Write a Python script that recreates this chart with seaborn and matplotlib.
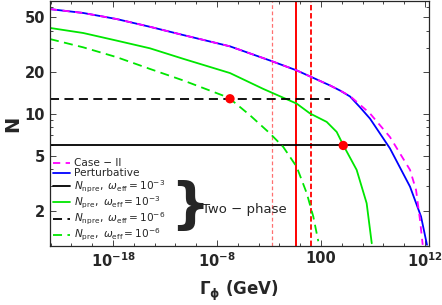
import numpy as np
import pandas as pd
import seaborn as sns
import matplotlib
matplotlib.use("Agg")
import matplotlib.pyplot as plt
from matplotlib.ticker import FixedLocator, FixedFormatter, LogLocator, NullFormatter

# valores (expoente log10 de Gamma_phi e N)
pert_logG = [-24.06, -20.86, -17.64, -14.44, -11.24, -6.75, -2.90, -0.34, 2.87,
             3.83, 4.79, 5.75, 6.71, 8.63, 10.56, 11.62, 12.19]
pert_N = [57.5, 53.9, 48.7, 42.8, 37.3, 30.9, 24.4, 20.7, 16.1,
          14.8, 13.4, 11.2, 9.27, 5.64, 2.98, 1.81, 1.13]

case2_logG = [-24.06, -20.86, -17.64, -14.44, -11.24, -6.75, -2.90, -0.34, 2.87,
              3.83, 4.79, 6.71, 8.63, 10.56, 11.14, 11.52, 11.78]
case2_N = [57.5, 53.9, 48.7, 42.8, 37.3, 30.9, 24.4, 20.7, 16.1,
           14.8, 13.5, 10.1, 6.82, 3.94, 2.82, 1.71, 1.13]

pre3_logG = [-24.06, -20.86, -17.64, -14.44, -11.24, -6.75, -3.55, -0.34, 0.94,
             2.55, 3.51, 4.14, 5.43, 6.39, 6.88]
pre3_N = [42.0, 38.6, 34.0, 29.9, 25.1, 19.8, 15.2, 11.9, 10.1,
          8.77, 7.42, 5.96, 3.94, 2.26, 1.16]

pre6_logG = [-24.06, -20.86, -17.64, -14.44, -11.24, -7.07, -6.75, -4.83,
             -2.90, -1.63, -0.34, 0.63, 1.26, 1.74]
pre6_N = [34.9, 30.4, 25.8, 21.2, 17.5, 13.3, 12.9, 9.8,
          7.23, 5.78, 4.15, 2.67, 1.81, 1.20]

npre3_logG = [-24.06, 8.15]
npre3_N = [5.92, 5.92]
npre6_logG = [-24.06, 2.87]
npre6_N = [12.9, 12.9]

dots_logG = [-6.75, 4.14]
dots_N = [12.9, 5.92]

vlines_logG = [-2.74, -0.38, 1.01]

xticks_exp = [-18, -8, 2, 12]
xtick_labels = [r'$\mathbf{10^{-18}}$', r'$\mathbf{10^{-8}}$', '100', r'$\mathbf{10^{12}}$']
yticks = [2, 5, 10, 20, 50]

sns.set_style('ticks')
plt.rcParams['font.family'] = ['DejaVu Sans']

fig = plt.figure(figsize=(4.42, 3.05), dpi=100)
ax = fig.add_axes([0.113, 0.192, 0.857, 0.805])


def curva(logG, N, **kw):
    df = pd.DataFrame({'G': 10.0 ** np.array(logG), 'N': N})
    return sns.lineplot(data=df, x='G', y='N', ax=ax, estimator=None, sort=False, **kw)


# linhas verticais em vermelho
ax.axvline(10 ** vlines_logG[0], color='#ff7070', lw=0.9, ls=(0, (3, 2)))
ax.axvline(10 ** vlines_logG[1], color='#ff0000', lw=1.4)
ax.axvline(10 ** vlines_logG[2], color='#ff0000', lw=1.3, ls=(0, (3, 1.5)))

curva(pert_logG, pert_N, color='#0000ff', lw=1.3, label='Perturbative')
curva(case2_logG, case2_N, color='#ff00ff', lw=1.3, ls=(0, (4, 3)), label='Case − II')
curva(npre3_logG, npre3_N, color='black', lw=1.3, label=r'$N_{\rm npre},\ \omega_{\rm eff}=10^{-3}$')
curva(pre3_logG, pre3_N, color='#00e600', lw=1.3, label=r'$N_{\rm pre},\ \omega_{\rm eff}=10^{-3}$')
curva(npre6_logG, npre6_N, color='black', lw=1.3, ls=(0, (5, 3)), label=r'$N_{\rm npre},\ \omega_{\rm eff}=10^{-6}$')
curva(pre6_logG, pre6_N, color='#00e600', lw=1.3, ls=(0, (5, 3)), label=r'$N_{\rm pre},\ \omega_{\rm eff}=10^{-6}$')

# pontos vermelhos
sns.scatterplot(x=10.0 ** np.array(dots_logG), y=dots_N, ax=ax, color='#ff0000',
                s=45, edgecolor='none', zorder=5)

ax.set_xscale('log')
ax.set_yscale('log')
ax.set_xlim(10 ** -24.06, 10 ** 12.36)
ax.set_ylim(1.10, 65.9)

ax.xaxis.set_major_locator(FixedLocator([10.0 ** e for e in xticks_exp]))
ax.xaxis.set_major_formatter(FixedFormatter(xtick_labels))
ax.xaxis.set_minor_locator(FixedLocator([10.0 ** e for e in range(-24, 13, 2)]))
ax.xaxis.set_minor_formatter(NullFormatter())
ax.yaxis.set_major_locator(FixedLocator(yticks))
ax.yaxis.set_major_formatter(FixedFormatter([str(v) for v in yticks]))
ax.yaxis.set_minor_locator(LogLocator(base=10, subs=np.arange(1, 10)))
ax.yaxis.set_minor_formatter(NullFormatter())

ax.tick_params(which='both', direction='in', top=True, right=True, width=0.6)
ax.tick_params(which='major', length=4, labelsize=10.5)
ax.tick_params(which='minor', length=2)
for lab in ax.get_xticklabels() + ax.get_yticklabels():
    lab.set_fontweight('bold')
for s in ax.spines.values():
    s.set_linewidth(0.9)

ax.set_xlabel(r'$\mathbf{\Gamma_\phi}$ (GeV)', fontsize=12, fontweight='bold', labelpad=6)
ax.set_ylabel('N', fontsize=14, fontweight='bold', labelpad=2)

# legenda na mesma ordem do original
h, l = ax.get_legend_handles_labels()
ordem = ['Case − II', 'Perturbative'] + l[2:]
hs = [h[l.index(o)] for o in ordem]
ax.legend(hs, ordem, loc='lower left', frameon=False, fontsize=7.6,
          handlelength=1.6, handletextpad=0.4, labelspacing=0.0,
          borderpad=0.2, borderaxespad=0.1)

# chave e texto "Two - phase"
fig.text(190 / 442, 1 - 207 / 305, '}', fontsize=40, fontweight='bold',
         va='center', ha='center')
fig.text(202 / 442, 1 - 210 / 305, 'Two − phase', fontsize=9.5,
         va='center', ha='left')

fig.savefig('out.png', dpi=100)
